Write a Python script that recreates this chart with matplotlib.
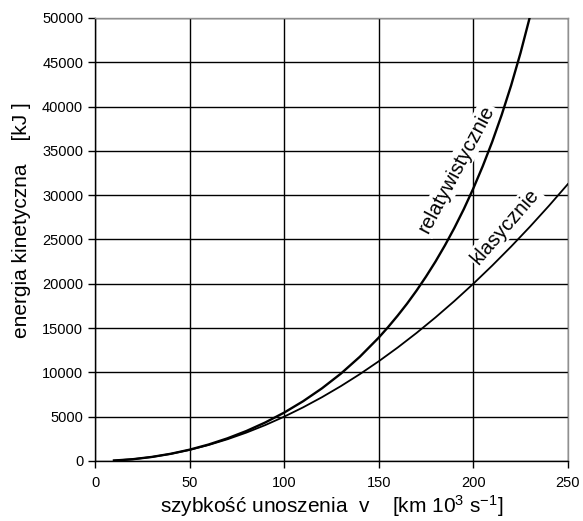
import matplotlib
matplotlib.use("Agg")
import matplotlib.pyplot as plt

plt.rcParams['font.family'] = ['Liberation Sans', 'DejaVu Sans']
plt.rcParams['mathtext.default'] = 'regular'

# szybkosc [km 10^3 s^-1] i energia [kJ]
v_klas = [10, 20, 30, 40, 50, 60, 70, 80, 90, 100, 110, 120, 130, 140, 150,
          160, 170, 180, 190, 200, 210, 220, 230, 240, 250]
e_klas = [50, 200, 450, 800, 1250, 1800, 2450, 3200, 4050, 5000, 6050, 7200,
          8450, 9800, 11250, 12800, 14450, 16200, 18050, 20000, 22050, 24200,
          26450, 28800, 31250]

v_rel = [10, 20, 30, 40, 50, 60, 70, 80, 90, 100, 110, 120, 130, 140, 150,
         155, 160, 165, 170, 175, 180, 185, 190, 195, 200, 205, 210, 215,
         220, 225, 230]
e_rel = [50, 200, 455, 810, 1275, 1855, 2555, 3380, 4345, 5460, 6740, 8200,
         9860, 11760, 13920, 15120, 16400, 17760, 19230, 20810, 22500, 24330,
         26300, 28430, 30750, 33270, 36020, 39050, 42380, 46070, 50180]

fig = plt.figure(figsize=(5.83, 5.21), dpi=100)
ax = fig.add_axes([0.163, 0.1152, 0.811, 0.8503])

ax.plot(v_rel, e_rel, color='black', lw=1.7, zorder=4)
ax.plot(v_klas, e_klas, color='black', lw=1.3, zorder=4)

ax.set_xlim(0, 250)
ax.set_ylim(0, 50000)
ax.set_xticks(range(0, 251, 50))
ax.set_yticks(range(0, 50001, 5000))
ax.grid(True, color='black', lw=1)
ax.tick_params(direction='out', length=5, width=1, labelsize=10.5, color='black')
ax.tick_params(axis='x', pad=6)
for s in ['left', 'bottom']:
    ax.spines[s].set_color('black')
    ax.spines[s].set_linewidth(1)
for s in ['top', 'right']:
    ax.spines[s].set_color('#909090')
    ax.spines[s].set_linewidth(1)

ax.set_xlabel('szybkość unoszenia  v    [km 10$^3$ s$^{-1}$]', fontsize=15, labelpad=2)
fig.text(22 / 583, 1 - 220 / 521, 'energia kinetyczna    [kJ ]', fontsize=15,
         rotation=90, ha='center', va='center')

box = dict(facecolor='white', edgecolor='none', pad=1.5)
ax.text(191, 32900, 'relatywistycznie', rotation=62, fontsize=14.5,
        ha='center', va='center', bbox=box, zorder=3)
ax.text(217, 26500, 'klasycznie', rotation=49, fontsize=14.5,
        ha='center', va='center', bbox=box, zorder=3)

fig.savefig('out.png', dpi=100)
